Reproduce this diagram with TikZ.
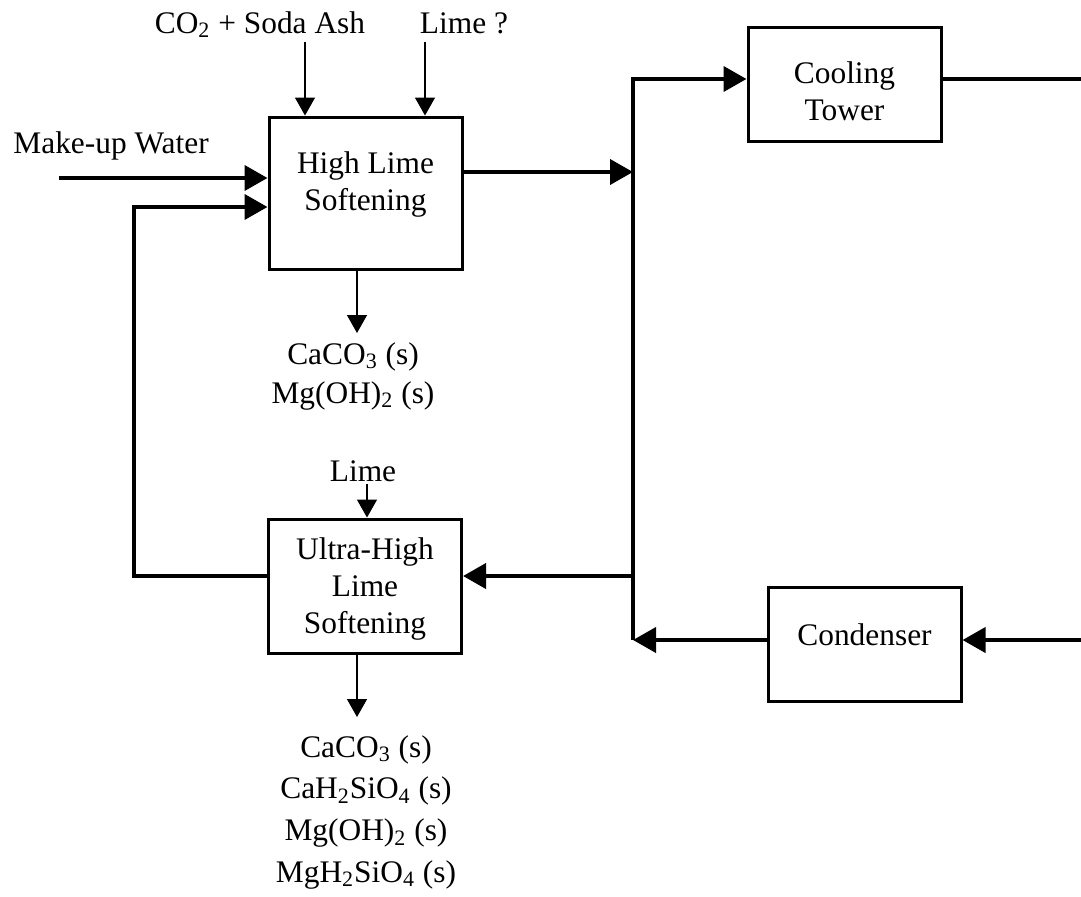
\documentclass[tikz,border=0pt]{standalone}
\usepackage{fontspec}
\setmainfont{Liberation Serif}
\usetikzlibrary{arrows.meta,positioning}

\begin{document}
\begin{tikzpicture}[x=0.5pt, y=-0.5pt, >={Triangle[length=11.5pt,width=12.5pt]},
  every node/.style={font=\fontsize{15.7}{18.5}\selectfont}]

\tikzstyle{unit}=[draw, line width=1.5pt, minimum width=96.5pt]
\tikzstyle{tag}=[inner sep=0pt, align=center]
\tikzstyle{pipe}=[line width=2pt]
\tikzstyle{feed}=[line width=0.7pt, -{Triangle[length=9pt,width=10pt]}]

\fill[white] (0,0) rectangle (1081,896);
\useasboundingbox (0,0) rectangle (1081,896);

% process units
\node[unit, minimum height=76pt, label={[tag, name=HLStext, yshift=4.5pt]center:High Lime\\Softening}] (HLS) at (365.5,193) {};
\node[unit, minimum height=67pt, label={[tag, name=UHLStext, yshift=-1.5pt]center:Ultra-High\\Lime\\Softening}] (UHLS) at (365,586) {};
\node[unit, minimum height=57pt, label={[tag, name=Towertext, yshift=-3.5pt]center:Cooling\\Tower}] (Tower) at (844.5,84) {};
\node[unit, minimum height=57pt, label={[tag, name=Condtext, yshift=4.5pt]center:Condenser}] (Cond) at (864.5,644) {};

% junctions and loose ends
\coordinate (Jtop) at (633,79);
\coordinate (Jin) at (633,172);
\coordinate (Jmid) at (633,576);
\coordinate (Jbot) at (633,640);
\coordinate (Wet) at (59,178);
\coordinate (Back) at (134,576);
\coordinate (BackUp) at (134,207);
\coordinate (TowerOut) at (1081,79);
\coordinate (CondIn) at (1081,640);
\coordinate (AshIn) at (305,42);
\coordinate (LimeIn) at (425,42);
\coordinate (LimeIn2) at (367,484);
\coordinate (SludgeA) at (357,333);
\coordinate (SludgeB) at (357,717);

% labels
\node[tag, anchor=base west] (MakeUp) at (13,153) {Make-up Water};
\node[tag, anchor=base] (Ash) at (260,33) {CO\textsubscript{2} + Soda Ash};
\node[tag, anchor=base] (LimeQ) at (464,33) {Lime ?};
\node[tag, above=1pt of LimeIn2, xshift=-2pt] (Lime) {Lime};
\node[tag, below=4.5pt of SludgeA, xshift=-2pt, font=\fontsize{15.7}{19.5}\selectfont] (SolidsA)
  {CaCO\textsubscript{3} (s)\\Mg(OH)\textsubscript{2} (s)};
\node[tag, below=9pt of SludgeB, xshift=4.5pt, font=\fontsize{15.7}{20.8}\selectfont] (SolidsB)
  {CaCO\textsubscript{3} (s)\\CaH\textsubscript{2}SiO\textsubscript{4} (s)\\Mg(OH)\textsubscript{2} (s)\\MgH\textsubscript{2}SiO\textsubscript{4} (s)};

% water loop
\draw[pipe, ->] (Wet) -- (Wet -| HLS.west);
\draw[pipe, ->] (Back -| UHLS.west) -- (Back) -- (BackUp) -- (BackUp -| HLS.west);
\draw[pipe, ->] (Jin -| HLS.east) -- (Jin);
\draw[pipe, ->] (Jbot) -- (Jtop) -- (Jtop -| Tower.west);
\draw[pipe] (Jtop -| Tower.east) -- (TowerOut);
\draw[pipe, ->] (CondIn) -- (CondIn -| Cond.east);
\draw[pipe, ->] (CondIn -| Cond.west) -- (Jbot);
\draw[pipe, ->] (Jmid) -- (Jmid -| UHLS.east);

% chemicals in, solids out
\draw[feed] (AshIn) -- (AshIn |- HLS.north);
\draw[feed] (LimeIn) -- (LimeIn |- HLS.north);
\draw[feed] (LimeIn2) -- (LimeIn2 |- UHLS.north);
\draw[feed] (SludgeA |- HLS.south) -- (SludgeA);
\draw[feed] (SludgeB |- UHLS.south) -- (SludgeB);
\end{tikzpicture}
\end{document}
